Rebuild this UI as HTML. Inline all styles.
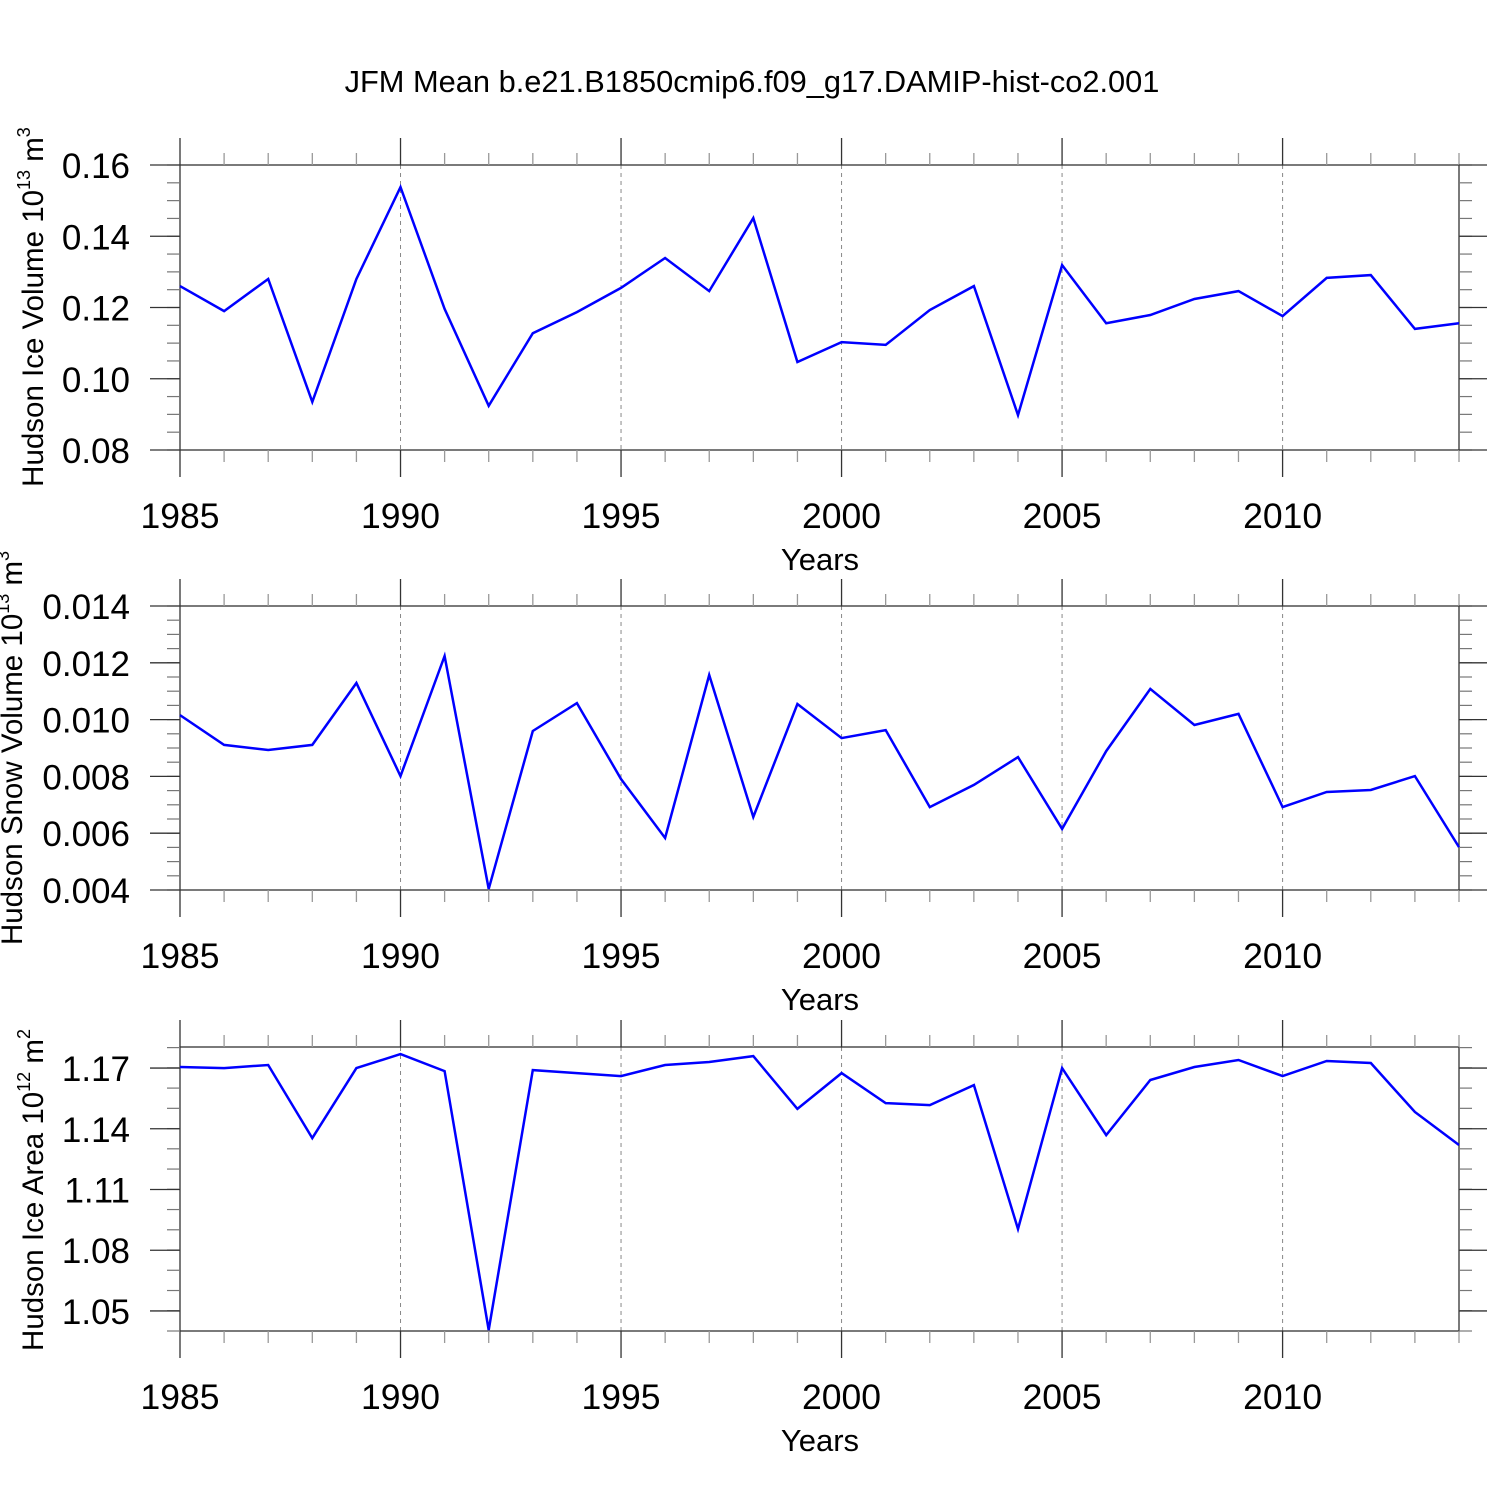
<!DOCTYPE html>
<html><head><meta charset="utf-8"><style>
body{margin:0;background:#fff}
svg text{font-family:"Liberation Sans",sans-serif;fill:#000}
</style></head><body>
<svg id="chart" width="1500" height="1500" xmlns="http://www.w3.org/2000/svg">
<text x="752" y="92" font-size="30.8" text-anchor="middle">JFM Mean b.e21.B1850cmip6.f09_g17.DAMIP-hist-co2.001</text>
</svg>
<script>
const years = [1985,1986,1987,1988,1989,1990,1991,1992,1993,1994,1995,1996,1997,1998,1999,2000,2001,2002,2003,2004,2005,2006,2007,2008,2009,2010,2011,2012,2013,2014];
const iceVolume = [0.126,0.119,0.128,0.0935,0.128,0.1538,0.1196,0.0924,0.1128,0.1187,0.1255,0.1339,0.1246,0.1451,0.1047,0.1103,0.1095,0.1193,0.126,0.0898,0.1319,0.1156,0.1179,0.1224,0.1246,0.1176,0.1283,0.1291,0.114,0.1156];
const snowVolume = [0.01016,0.00911,0.00893,0.00911,0.01129,0.00801,0.01224,0.00404,0.0096,0.01058,0.00791,0.00583,0.01157,0.00657,0.01055,0.00935,0.00963,0.00692,0.0077,0.00868,0.00615,0.00889,0.01108,0.00981,0.0102,0.00692,0.00745,0.00752,0.00801,0.00551];
const iceArea = [1.1705,1.170,1.1715,1.1354,1.170,1.1769,1.1685,1.0406,1.169,1.1675,1.166,1.1715,1.173,1.1759,1.1498,1.1675,1.1527,1.1517,1.1616,1.0905,1.170,1.1369,1.1641,1.1705,1.174,1.166,1.1735,1.1725,1.1483,1.132];
const xTicks = [1985,1990,1995,2000,2005,2010];
const yTicks1 = [0.08,0.10,0.12,0.14,0.16];
const yTicks2 = [0.004,0.006,0.008,0.010,0.012,0.014];
const yTicks3 = [1.05,1.08,1.11,1.14,1.17];

const NS='http://www.w3.org/2000/svg';
const svg=document.getElementById('chart');
function el(tag,attrs,parent){const e=document.createElementNS(NS,tag);for(const k in attrs)e.setAttribute(k,attrs[k]);(parent||svg).appendChild(e);return e;}
const X0=180,X1=1459;
const xs=y=>X0+(y-1985)/(2014-1985)*(X1-X0);

function panel(name,top,bot,ymin,ymax,yticks,minorStep,dec,data,titleMain,exp,unit,titleX,titleY){
  const g=el('g',{});
  
  
  const ys=v=>bot-(v-ymin)/(ymax-ymin)*(bot-top);
  xTicks.forEach(t=>{if(t>1985){const l=el('line',{x1:xs(t),x2:xs(t),y1:top,y2:bot,stroke:'#888','stroke-width':1,'stroke-dasharray':'4,4'},g);
    }});
  const r=el('rect',{x:X0,y:top,width:X1-X0,height:bot-top,fill:'none',stroke:'#333','stroke-width':1.3},g);
  
  for(let y=1985;y<=2014;y++){const maj=(y%5===0);const len=maj?27:12;
    [[top,top-len],[bot,bot+len]].forEach(p=>{const l=el('line',{x1:xs(y),x2:xs(y),y1:p[0],y2:p[1],stroke:maj?'#333':'#999','stroke-width':1.3},g);
      });}
  xTicks.forEach(t=>{const tx=el('text',{x:xs(t),y:bot+78,'font-size':35.5,'text-anchor':'middle'},g);tx.textContent=t;
    });
  const xt=el('text',{x:820,y:bot+120,'font-size':31,'text-anchor':'middle'},g);xt.textContent='Years';
  
  for(let v=ymin;v<=ymax+1e-9;v+=minorStep){const yy=ys(v);if(yy<top-0.5||yy>bot+0.5)continue;
    [[X0,X0-13],[X1,X1+13]].forEach(p=>{const l=el('line',{x1:p[0],x2:p[1],y1:yy,y2:yy,stroke:'#777','stroke-width':1.2},g);
      });}
  yticks.forEach(v=>{const yy=ys(v);
    [[X0,X0-30],[X1,X1+28]].forEach(p=>{const l=el('line',{x1:p[0],x2:p[1],y1:yy,y2:yy,stroke:'#333','stroke-width':1.3},g);
      });
    const tx=el('text',{x:130,y:yy+13,'font-size':35,'text-anchor':'end'},g);tx.textContent=v.toFixed(dec);
    });
  const ty=el('text',{transform:`translate(${titleX},${titleY}) rotate(-90)`,'font-size':29.5,'text-anchor':'middle'},g);
  
  ty.innerHTML=titleMain+' 10<tspan dy="-13" font-size="18">'+exp+'</tspan><tspan dy="13"> m</tspan><tspan dy="-13" font-size="18">'+unit+'</tspan>';
  const d=data.map((v,i)=>(i?'L':'M')+xs(years[i]).toFixed(1)+','+ys(v).toFixed(1)).join('');
  const p=el('path',{d:d,fill:'none',stroke:'#0000ff','stroke-width':2.5,'stroke-linejoin':'miter'},g);
  
}
panel('ice-volume',165,450,0.08,0.16,yTicks1,0.005,2,iceVolume,'Hudson Ice Volume','13','3',43,307);
panel('snow-volume',606,890,0.004,0.014,yTicks2,0.0005,3,snowVolume,'Hudson Snow Volume','13','3',22,748);
panel('ice-area',1047,1331,1.0401,1.1804,yTicks3,0.01,2,iceArea,'Hudson Ice Area','12','2',43,1190);
</script>
</body></html>
